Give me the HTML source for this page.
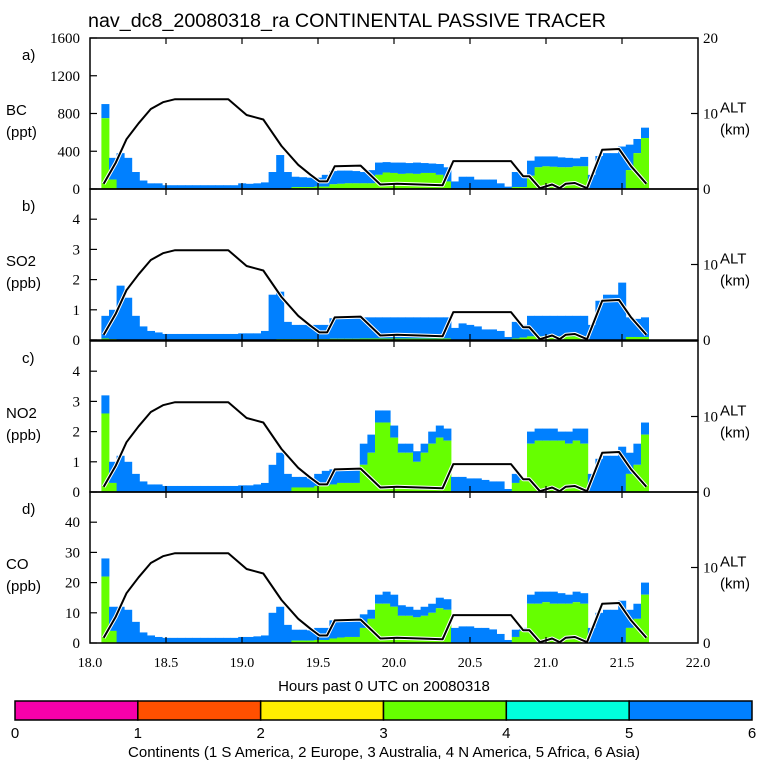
<!DOCTYPE html>
<html><head><meta charset="utf-8"><style>
html,body{margin:0;padding:0;background:#fff;width:768px;height:768px;overflow:hidden}
svg{display:block}
.s{font-family:"Liberation Sans",sans-serif}
.r{font-family:"Liberation Serif",serif}
</style></head><body>
<svg id="chart" width="768" height="768" viewBox="0 0 768 768">
<text x="88" y="27" class="s" font-size="19" textLength="518" lengthAdjust="spacingAndGlyphs">nav_dc8_20080318_ra CONTINENTAL PASSIVE TRACER</text>
<g id="panels"></g>
<g id="xaxis"></g>
<text x="384" y="691" text-anchor="middle" class="s" font-size="15">Hours past 0 UTC on 20080318</text>
<g id="colorbar"></g>
<text x="384" y="757" text-anchor="middle" class="s" font-size="15">Continents (1 S America, 2 Europe, 3 Australia, 4 N America, 5 Africa, 6 Asia)</text>
</svg>
<script>
// bins: center time = 18.10 + 0.05*i
const binStart = 18.10;
const binStep = 0.05;
const bcTotal = [900,330,380,330,180,90,60,60,40,40,40,40,40,40,40,40,40,40,60,55,60,70,180,360,180,130,125,120,120,150,190,195,195,190,180,200,280,285,280,280,275,280,275,270,265,230,80,130,130,100,100,100,60,25,180,150,300,345,345,345,335,330,325,340,150,350,380,380,450,470,530,650];
const bcGreen = [750,100,0,0,0,0,0,0,0,0,0,0,0,0,0,0,0,0,0,0,0,0,0,0,0,20,20,20,25,25,50,55,60,60,60,60,150,175,170,160,165,160,170,170,150,80,0,0,0,0,0,0,0,0,20,20,140,230,240,235,230,230,240,240,0,0,0,0,0,200,380,540];
const so2Total = [0.8,1.0,1.8,1.4,0.8,0.45,0.3,0.25,0.2,0.2,0.2,0.2,0.2,0.2,0.2,0.2,0.2,0.2,0.22,0.22,0.22,0.3,1.5,1.6,0.6,0.5,0.5,0.5,0.5,0.5,0.72,0.72,0.72,0.72,0.75,0.75,0.75,0.75,0.75,0.75,0.75,0.75,0.75,0.75,0.75,0.75,0.4,0.55,0.5,0.45,0.35,0.35,0.3,0.1,0.6,0.5,0.8,0.8,0.8,0.8,0.8,0.8,0.8,0.8,0.5,1.3,1.5,1.5,1.9,0.75,0.7,0.75];
const so2Green = [0.05,0.03,0,0,0,0,0,0,0,0,0,0,0,0,0,0,0,0,0,0,0,0,0,0.03,0.03,0.03,0.03,0.03,0.03,0.03,0.04,0.04,0.04,0.04,0.05,0.05,0.05,0.05,0.05,0.05,0.05,0.05,0.05,0.05,0.05,0.05,0,0,0,0,0,0,0,0,0.05,0.08,0.12,0.12,0.12,0.12,0.12,0.12,0.12,0.12,0,0,0,0,0,0.1,0.1,0.1];
const no2Total = [3.2,1.0,1.2,1.0,0.6,0.35,0.25,0.25,0.2,0.2,0.2,0.2,0.2,0.2,0.2,0.2,0.2,0.2,0.22,0.22,0.25,0.3,0.9,1.3,0.6,0.5,0.5,0.45,0.6,0.7,0.75,0.75,0.75,0.8,1.6,1.9,2.7,2.7,2.2,1.6,1.6,1.35,1.6,2.0,2.2,2.1,0.5,0.5,0.45,0.45,0.4,0.35,0.35,0.1,0.6,0.45,2.0,2.1,2.1,2.1,2.0,2.0,2.1,2.1,0.6,1.1,1.2,1.2,1.5,1.3,1.6,2.3];
const no2Green = [2.6,0.3,0,0,0,0,0,0,0,0,0,0,0,0,0,0,0,0,0,0,0,0,0,0,0,0.15,0.15,0.15,0.2,0.2,0.25,0.3,0.3,0.3,0.9,1.3,2.3,2.3,1.8,1.3,1.3,1.0,1.3,1.6,1.8,1.7,0,0,0,0,0,0,0,0,0.3,0.4,1.6,1.7,1.7,1.7,1.7,1.6,1.7,1.6,0,0,0,0,0,0.6,0.9,1.9];
const coTotal = [28,12,12,11,7,3.5,2.5,2,1.7,1.7,1.7,1.7,1.7,1.7,1.7,1.7,1.7,1.7,2,2,2.2,2.5,10,12,6,4.4,4.4,4.2,5,5,7.5,7.5,7.5,7.5,9.5,11,16,17,16,12.5,12,11,12,13,15,14.5,5,5.5,5.5,5,5,4.5,3,1,4.4,5,16,17,17,17,16.5,16,17,16.5,5,10,11,11,14,11,13,20];
const coGreen = [22,4,0,0,0,0,0,0,0,0,0,0,0,0,0,0,0,0,0,0,0,0,0,0,0,0.8,0.8,0.8,1,1,1.5,1.8,2,2,5,8,13,13,12,9,9,8.5,9,10,11.5,11,0,0,0,0,0,0,0,0,2,4,13,13,13.5,13,13,13,13.5,13,0,0,0,0,0,5,8,16];
const altTime = [18.09,18.17,18.24,18.32,18.40,18.48,18.56,18.91,19.03,19.14,19.26,19.37,19.45,19.51,19.56,19.61,19.78,19.91,20.02,20.32,20.39,20.77,20.85,20.89,20.96,21.04,21.09,21.13,21.19,21.27,21.37,21.48,21.56,21.66];
const altKm = [0.7,3.5,6.6,8.7,10.6,11.5,11.9,11.9,9.8,9.2,5.7,3.2,1.9,1.0,1.0,3.0,3.1,0.6,0.7,0.5,3.7,3.7,1.7,1.7,0.1,0.6,0.1,0.7,0.8,0.1,5.2,5.3,3.0,0.7];
const xTicks = [18.0,18.5,19.0,19.5,20.0,20.5,21.0,21.5,22.0];
const panelLetters = ["a)","b)","c)","d)"];
const panelNames = ["BC","SO2","NO2","CO"];
const panelUnits = ["(ppt)","(ppb)","(ppb)","(ppb)"];
const panelMax = [1600,5,5,50];
const panelTicks = [[0,400,800,1200,1600],[0,1,2,3,4],[0,1,2,3,4],[0,10,20,30,40]];
const cbLabels = ["0","1","2","3","4","5","6"];
const cbColors = ["#f700aa","#ff5000","#ffee00","#66ff00","#00ffdd","#0080ff"];

const NS="http://www.w3.org/2000/svg";
const X0=90,X1=698,T0=18,T1=22;
const panelTop=[38,189,341,492], PH=151;
const GREEN="#66ff00", BLUE="#0080ff";
function xs(t){return X0+(t-T0)/(T1-T0)*(X1-X0);}
function mk(tag,attrs,parent){const e=document.createElementNS(NS,tag);for(const k in attrs)e.setAttribute(k,attrs[k]);parent.appendChild(e);return e;}
const panelsG=document.getElementById('panels');
const totals=[bcTotal,so2Total,no2Total,coTotal];
const greens=[bcGreen,so2Green,no2Green,coGreen];
const keys=["bc","so2","no2","co"];
for(let p=0;p<4;p++){
  const top=panelTop[p], bot=top+PH, max=panelMax[p];
  const ys=v=>bot-v/max*PH;
  const altY=a=>bot-a/20*PH;
  const g=mk('g',{},panelsG);
  
  
  const bw=xs(binStart+binStep)-xs(binStart);
  for(let i=0;i<totals[p].length;i++){
    const t=binStart+binStep*i, x=xs(t-binStep/2);
    const gv=greens[p][i], tv=totals[p][i];
    if(tv>gv){const r=mk('rect',{x:x,y:ys(tv),width:bw+0.4,height:ys(gv)-ys(tv),fill:BLUE},g);
      
      }
    if(gv>0){const r=mk('rect',{x:x,y:ys(gv),width:bw+0.4,height:bot-ys(gv),fill:GREEN},g);
      
      }
  }
  let d='';
  for(let i=0;i<altTime.length;i++)d+=(i?'L':'M')+xs(altTime[i]).toFixed(1)+','+altY(altKm[i]).toFixed(1);
  mk('path',{d:d,fill:'none',stroke:'#fff','stroke-width':4,'stroke-linejoin':'round'},g);
  const al=mk('path',{d:d,fill:'none',stroke:'#000','stroke-width':2,'stroke-linejoin':'round'},g);
  
  
  const fr=mk('rect',{x:X0,y:top,width:X1-X0,height:PH,fill:'none',stroke:'#000','stroke-width':1.5},g);
  
  
  for(const v of panelTicks[p]){
    mk('line',{x1:X0,x2:X0+7,y1:ys(v),y2:ys(v),stroke:'#000','stroke-width':1.2},g);
    const tl=mk('text',{x:80,y:ys(v)+5,'text-anchor':'end','font-size':15,class:'r'},g);
    tl.textContent=String(v);
    
    
  }
  for(const t of xTicks.slice(1,-1)){
    mk('line',{x1:xs(t),x2:xs(t),y1:top,y2:top+6,stroke:'#000','stroke-width':1.2},g);
    mk('line',{x1:xs(t),x2:xs(t),y1:bot,y2:bot-6,stroke:'#000','stroke-width':1.2},g);
  }
  mk('line',{x1:X1-7,x2:X1,y1:altY(10),y2:altY(10),stroke:'#000','stroke-width':1.2},g);
  const tx=[[22,top+22,panelLetters[p],'panel-letter'],[6,top+77,panelNames[p],'y-axis-title'],[6,top+99,panelUnits[p],'y-axis-units']];
  for(const [x,y,s,n] of tx){const e=mk('text',{x:x,y:y,'font-size':15,class:'s'},g);e.textContent=s;
    
    }
  if(p===0){const e=mk('text',{x:703,y:top+5,'font-size':15,class:'r'},g);e.textContent='20';
    
    }
  const z=mk('text',{x:703,y:bot+5,'font-size':15,class:'r'},g);z.textContent='0';
  
  
  const ten=mk('text',{x:703,y:altY(10)+5,'font-size':15,class:'r'},g);ten.textContent='10';
  
  
  const at=mk('text',{x:720,y:altY(10)-1,'font-size':15,class:'s'},g);at.textContent='ALT';
  
  
  const ku=mk('text',{x:720,y:altY(10)+21,'font-size':15,class:'s'},g);ku.textContent='(km)';
  
  
}
const xa=document.getElementById('xaxis');
for(const t of xTicks){const e=mk('text',{x:xs(t),y:667,'text-anchor':'middle','font-size':14,class:'r'},xa);
  e.textContent=t.toFixed(1);
  
  }
const cb=document.getElementById('colorbar');
const CB0=15,CB1=752,cw=(CB1-CB0)/cbColors.length;
for(let i=0;i<cbColors.length;i++){const r=mk('rect',{x:CB0+i*cw,y:701,width:cw,height:19,fill:cbColors[i],stroke:'#000','stroke-width':1.5},cb);
  
  }
for(let i=0;i<cbLabels.length;i++){const e=mk('text',{x:CB0+i*cw,y:738,'text-anchor':'middle','font-size':15,class:'s'},cb);
  e.textContent=cbLabels[i];
  
  }
</script>
</body></html>
